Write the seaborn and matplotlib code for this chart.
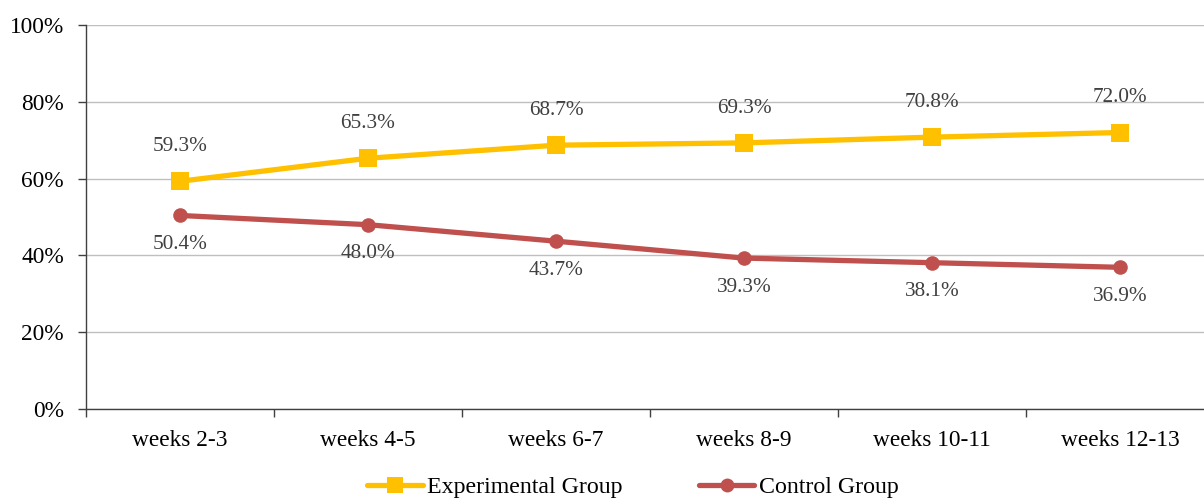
import matplotlib
matplotlib.use("Agg")
import matplotlib.pyplot as plt
import seaborn as sns
import pandas as pd
import numpy as np
from matplotlib.lines import Line2D

categories = ["weeks 2-3", "weeks 4-5", "weeks 6-7", "weeks 8-9", "weeks 10-11", "weeks 12-13"]
experimental = [59.3, 65.3, 68.7, 69.3, 70.8, 72.0]
control = [50.4, 48.0, 43.7, 39.3, 38.1, 36.9]
y_ticks = [0, 20, 40, 60, 80, 100]

sns.set_style("white")
plt.rcParams["font.family"] = ["Liberation Serif", "DejaVu Serif"]
plt.rcParams["text.color"] = "black"
plt.rcParams["xtick.color"] = "black"
plt.rcParams["ytick.color"] = "black"

YELLOW = "#FFC000"
RED = "#C0504D"

fig = plt.figure(figsize=(12.04, 4.99), dpi=100)
W, H = 1204, 499
ax = fig.add_axes([86 / W, 1 - 409 / H, (1214 - 86) / W, (409 - 25) / H])

x = np.arange(len(categories))
df = pd.DataFrame({
    "x": np.concatenate([x, x]),
    "value": experimental + control,
    "group": ["Experimental Group"] * len(x) + ["Control Group"] * len(x),
})

sns.lineplot(data=df[df.group == "Experimental Group"], x="x", y="value", color=YELLOW,
             lw=3.8, marker="s", markersize=12.5, markeredgewidth=0, ax=ax, sort=False, zorder=3)
sns.lineplot(data=df[df.group == "Control Group"], x="x", y="value", color=RED,
             lw=3.8, marker="o", markersize=10.5, markeredgewidth=0, ax=ax, sort=False, zorder=3)

for xi, v in zip(x, experimental):
    ax.annotate(f"{v:.1f}%", (xi, v), xytext=(0, 25), textcoords="offset points",
                ha="center", va="center", fontsize=15.3, color="#404040")
for xi, v in zip(x, control):
    ax.annotate(f"{v:.1f}%", (xi, v), xytext=(0, -21), textcoords="offset points",
                ha="center", va="center", fontsize=15.3, color="#404040")

ax.set_xlim(-0.5, len(categories) - 0.5)
ax.set_ylim(0, 100)
ax.set_yticks(y_ticks)
ax.set_yticklabels([f"{t}%" for t in y_ticks], fontsize=16.8)
ax.set_xticks(x)
ax.set_xticklabels(categories, fontsize=16.8)
ax.set_xticks(np.arange(-0.5, len(categories), 1), minor=True)
ax.tick_params(axis="x", which="major", bottom=True, length=0, pad=15, labelcolor="black")
ax.tick_params(axis="x", which="minor", bottom=True, length=6, width=1, color="#404040",
               direction="out")
ax.tick_params(axis="y", left=True, length=6, width=1, color="#404040", labelcolor="black",
               direction="out", pad=10)
ax.yaxis.grid(True, color="#BFBFBF", lw=1)
ax.xaxis.grid(False)
ax.set_xlabel("")
ax.set_ylabel("")
for s in ["top", "right"]:
    ax.spines[s].set_visible(False)
for s in ["left", "bottom"]:
    ax.spines[s].set_color("#404040")
    ax.spines[s].set_linewidth(1)
ax.legend_ = None

handles = [
    Line2D([], [], color=YELLOW, lw=3.8, marker="s", markersize=12, markeredgewidth=0),
    Line2D([], [], color=RED, lw=3.8, marker="o", markersize=10, markeredgewidth=0),
]
fig.legend(handles, ["Experimental Group", "Control Group"], loc="center",
           bbox_to_anchor=(632.5 / W, 1 - 487 / H), ncol=2, frameon=False, fontsize=17.2,
           handlelength=2.34, handletextpad=0.17, columnspacing=3.2, labelcolor="black",
           borderpad=0, borderaxespad=0)

fig.savefig("out.png", dpi=100)
